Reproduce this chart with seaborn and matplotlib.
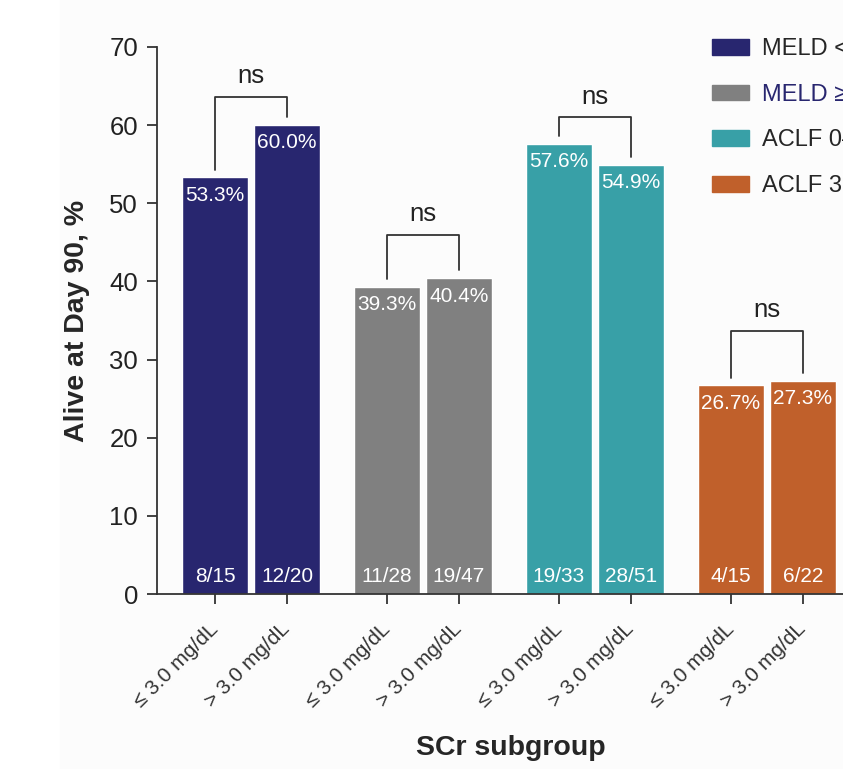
import matplotlib
matplotlib.use("Agg")
import matplotlib.pyplot as plt
import seaborn as sns
import pandas as pd
from matplotlib.patches import Patch, Rectangle

groups = ["MELD <35", "MELD ≥35", "ACLF 0–2", "ACLF 3"]
subgroups = ["≤ 3.0 mg/dL", "> 3.0 mg/dL"]
alive_pct = [53.3, 60.0, 39.3, 40.4, 57.6, 54.9, 26.7, 27.3]
counts = ["8/15", "12/20", "11/28", "19/47", "19/33", "28/51", "4/15", "6/22"]
bracket_tops = [63.6, 46.0, 61.0, 33.7]
colors = ["#28266f", "#808080", "#38a0a7", "#c0602b"]

gap = 172 / 72
pos = [g * gap + i for g in range(4) for i in range(2)]
df = pd.DataFrame({
    "pos": pos,
    "pct": alive_pct,
    "group": [g for g in groups for _ in range(2)],
    "sub": subgroups * 4,
    "n": counts,
})

sns.set_style("ticks")
plt.rcParams["font.family"] = ["Liberation Sans", "DejaVu Sans"]

fig = plt.figure(figsize=(8.43, 7.69), dpi=100)
fig.patches.append(Rectangle((60 / 843, 0), 1, 1, transform=fig.transFigure,
                             color="#fcfcfc", zorder=-1))
# the plot runs past the right edge of the picture, as in the reference crop
ax = fig.add_axes([157 / 843, 1 - 594 / 769, (865 - 157) / 843, (594 - 47) / 769])
ax.set_facecolor("none")

sns.barplot(data=df, x="pos", y="pct", hue="group", palette=colors,
            native_scale=True, dodge=False, width=0.917, legend=False,
            saturation=1, ax=ax)

for _, r in df.iterrows():
    ax.annotate(f"{r.pct:.1f}%", (r.pos, r.pct), xytext=(0, -6),
                textcoords="offset points", ha="center", va="top",
                color="white", fontsize=15)
    ax.annotate(r.n, (r.pos, 0), xytext=(0, 6), textcoords="offset points",
                ha="center", va="bottom", color="white", fontsize=15)

for g in range(4):
    x1, x2 = pos[2 * g], pos[2 * g + 1]
    y1, y2 = alive_pct[2 * g] + 1.0, alive_pct[2 * g + 1] + 1.0
    top = bracket_tops[g]
    ax.plot([x1, x1, x2, x2], [y1, top, top, y2], color="#333333", lw=1.3,
            clip_on=False)
    ax.text((x1 + x2) / 2, top + 1.1, "ns", ha="center", va="bottom",
            fontsize=18.5, color="#222222")

ax.set_xlim(-(215 - 157) / 72, (865 - 215) / 72)
ax.set_ylim(0, 70)
ax.set_yticks(range(0, 71, 10))
ax.set_xticks(pos)
ax.set_xticklabels(df["sub"], rotation=45, ha="right", va="center",
                   rotation_mode="anchor", fontsize=15, color="#222222")
ax.tick_params(axis="y", labelsize=18.5, length=7.2, width=1.3, colors="#333333",
               labelcolor="#222222", pad=6.5)
ax.tick_params(axis="x", length=7.2, width=1.3, colors="#333333", pad=16)
for s in ["left", "bottom"]:
    ax.spines[s].set_linewidth(1.3)
    ax.spines[s].set_color("#333333")
sns.despine(ax=ax)

ax.set_ylabel("Alive at Day 90, %", fontsize=20.5, fontweight="bold", labelpad=14)
ax.set_xlabel("SCr subgroup", fontsize=20.5, fontweight="bold", labelpad=17)

handles = [Patch(color=c, label=g) for c, g in zip(colors, groups)]
leg = fig.legend(handles=handles, loc="upper left",
                 bbox_to_anchor=(691 / 843, 1 - 17 / 769), frameon=False,
                 fontsize=17, handlelength=1.55, handleheight=0.65,
                 handletextpad=0.55, labelspacing=1.0)
leg.get_texts()[1].set_color(colors[0])

fig.savefig("out.png", dpi=100)
